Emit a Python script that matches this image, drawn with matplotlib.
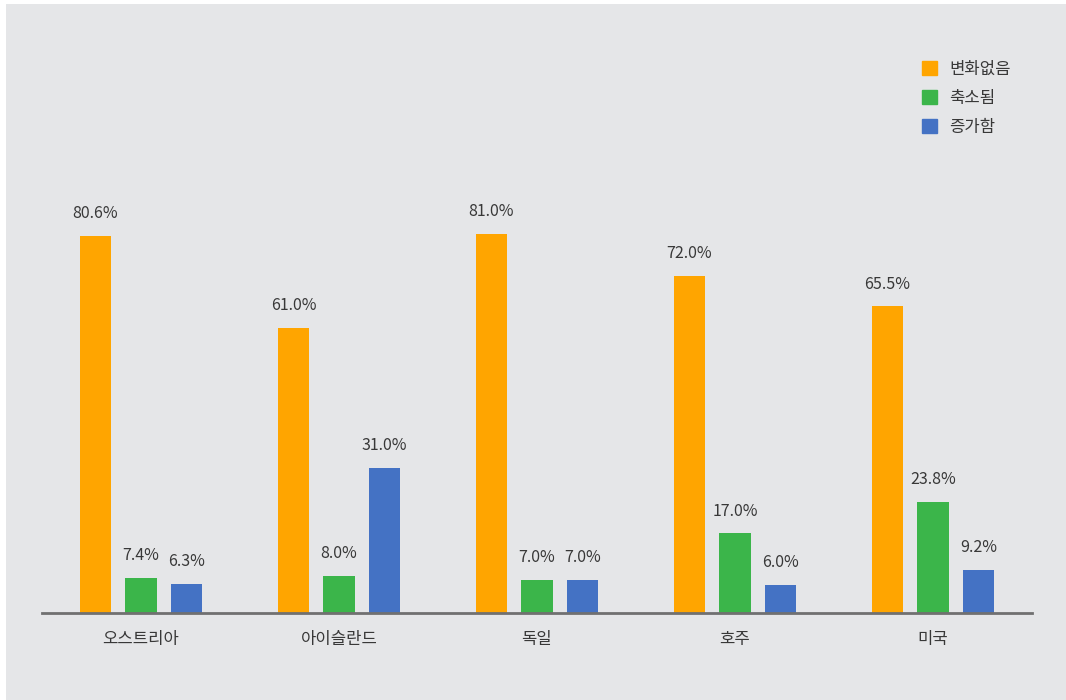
import matplotlib
matplotlib.use("Agg")
import matplotlib.pyplot as plt
import matplotlib.patches as mpatches
import numpy as np

plt.rcParams["font.family"] = ["Noto Sans CJK KR", "DejaVu Sans"]

# ── data ────────────────────────────────────────────────────────────────────
countries = ["오스트리아", "아이슬란드", "독일", "호주", "미국"]
series = ["변화없음", "축소됨", "증가함"]
no_change = [80.6, 61.0, 81.0, 72.0, 65.5]
reduced = [7.4, 8.0, 7.0, 17.0, 23.8]
increased = [6.3, 31.0, 7.0, 6.0, 9.2]

colors = ["#FFA500", "#3BB54A", "#4472C4"]
BG = "#E5E6E8"
TXT = "#383838"

W, H = 1066, 700
fig = plt.figure(figsize=(W / 100, H / 100), dpi=100, facecolor="white")
fig.patches.append(mpatches.Rectangle((6 / W, 0), 1, 1 - 4 / H,
                                      transform=fig.transFigure,
                                      fc=BG, ec="none", zorder=-10))

ax = fig.add_axes([42 / W, (H - 613) / H, 990 / W, 468 / H])
ax.set_facecolor("none")

x = np.arange(len(countries))
bw = 0.157
offs = [-0.23, 0.0, 0.23]
handles = []
for vals, off, col, name in zip([no_change, reduced, increased], offs, colors, series):
    bars = ax.bar(x + off, vals, width=bw, color=col, zorder=2)
    handles.append(mpatches.Patch(color=col, label=name))
    for b, v in zip(bars, vals):
        ax.annotate(f"{v:.1f}%", (b.get_x() + b.get_width() / 2, v),
                    xytext=(0, 10), textcoords="offset points",
                    ha="center", va="bottom", fontsize=11.5, color=TXT)

ax.set_xlim(-0.5, len(countries) - 0.5)
ax.set_ylim(0, 100)
for s in ["top", "right", "left"]:
    ax.spines[s].set_visible(False)
ax.spines["bottom"].set_color("#707070")
ax.spines["bottom"].set_linewidth(2)
ax.set_yticks([])
ax.set_xticks(x)
ax.set_xticklabels(countries, fontsize=12, color=TXT)
ax.tick_params(axis="x", length=0, pad=13)

fig.legend(handles=handles, loc="upper left", bbox_to_anchor=(907 / W, 1 - 46 / H),
           frameon=False, fontsize=12, handlelength=0.9, handleheight=0.9,
           handletextpad=0.75, labelspacing=0.72, labelcolor=TXT)

fig.savefig("out.png", dpi=100, facecolor=fig.get_facecolor())
